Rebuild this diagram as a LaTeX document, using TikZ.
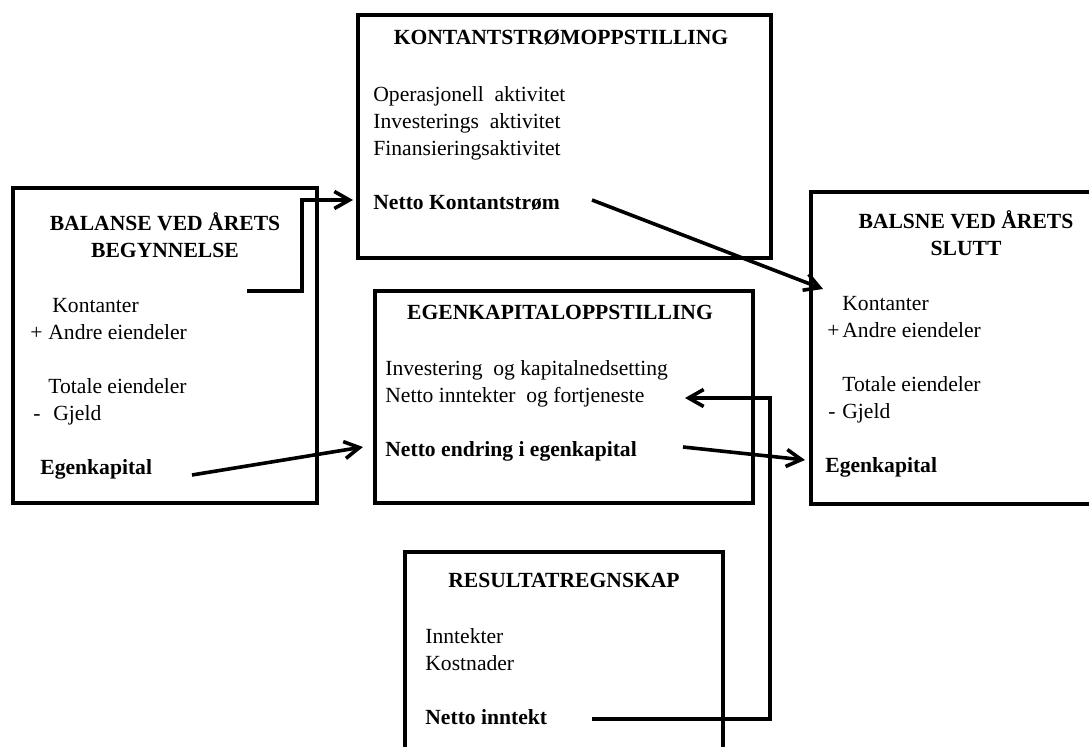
\documentclass[tikz,border=0pt]{standalone}
\usepackage{fontspec}
\setmainfont{Liberation Serif}
\usetikzlibrary{arrows.meta,fit}
\newcommand{\diagfont}{\fontsize{10.8pt}{13.5pt}\selectfont}
\tikzset{
  boxframe/.style={draw, line width=1.9pt, inner sep=0pt},
  boxtitle/.style={font=\diagfont\bfseries, align=center, inner sep=0pt, anchor=base},
  boxtext/.style={font=\diagfont, align=left, inner sep=0pt, anchor=base west},
  flow/.style={line width=1.8pt, -{Straight Barb[length=7.5pt,width=8.5pt]}}
}
\begin{document}
\begin{tikzpicture}[x=0.5pt, y=-0.5pt]
  \useasboundingbox (0,0) rectangle (1089,747);
  \clip (0,0) rectangle (1089,747);
  % Frames
  \node[boxframe, fit={(13,188) (317,503)}] (balStart) {};
  \node[boxframe, fit={(358,15) (771,258)}] (kontFlow) {};
  \node[boxframe, fit={(375,291) (753,503)}] (egenkap) {};
  \node[boxframe, fit={(811,192) (1121,504)}] (balEnd) {};
  \node[boxframe, fit={(405,552) (723,790)}] (resultat) {};
  % Titles (anchored at the baseline of the last line)
  \node[boxtitle] (balStartTitle) at (165,258) {BALANSE VED ÅRETS\\BEGYNNELSE};
  \node[boxtitle] (kontFlowTitle) at (561,45) {KONTANTSTRØMOPPSTILLING};
  \node[boxtitle] (egenkapTitle) at (560,320) {EGENKAPITALOPPSTILLING};
  \node[boxtitle] (balEndTitle) at (966,256) {BALSNE VED ÅRETS\\SLUTT};
  \node[boxtitle] (resultatTitle) at (564,588) {RESULTATREGNSKAP};
  % Entries
  \node[boxtext] (balStartText) at (30,475)
    {\hspace*{11pt}Kontanter\\
     \makebox[9pt][l]{+}Andre eiendeler\\[13.5pt]
     \hspace*{9pt}Totale eiendeler\\
     \hspace*{1.5pt}\makebox[10pt][l]{-}Gjeld\\[13.5pt]
     \hspace*{5pt}\textbf{Egenkapital}};
  \node[boxtext] (kontFlowText) at (373,210)
    {Operasjonell\ \ aktivitet\\
     Investerings\ \ aktivitet\\
     Finansieringsaktivitet\\[13.5pt]
     \textbf{Netto Kontantstrøm}};
  \node[boxtext] (egenkapText) at (385,457)
    {Investering\ \ og kapitalnedsetting\\
     Netto inntekter\ \ og fortjeneste\\[13.5pt]
     \textbf{Netto endring i egenkapital}};
  \node[boxtext] (balEndText) at (825,473)
    {\hspace*{8.5pt}Kontanter\\
     \hspace*{1pt}\makebox[7.5pt][l]{+}Andre eiendeler\\[13.5pt]
     \hspace*{8.5pt}Totale eiendeler\\
     \hspace*{1.5pt}\makebox[7pt][l]{-}Gjeld\\[13.5pt]
     \textbf{Egenkapital}};
  \node[boxtext] (resultatText) at (425,725)
    {Inntekter\\
     Kostnader\\[13.5pt]
     \textbf{Netto inntekt}};
  % Flows
  \coordinate (cashOut) at (247,291);
  \coordinate (cashIn) at (353,200);
  \coordinate (netCashOut) at (592,200);
  \coordinate (netCashIn) at (823,289);
  \coordinate (equityOut) at (192,475);
  \coordinate (equityIn) at (363,447);
  \coordinate (changeOut) at (683,447);
  \coordinate (changeIn) at (805,460);
  \coordinate (incomeOut) at (592,719);
  \coordinate (incomeTurn) at (770,398);
  \coordinate (incomeIn) at (685,398);
  \draw[flow] (cashOut) -- ++(55,0) |- (cashIn);
  \draw[flow] (netCashOut) -- (netCashIn);
  \draw[flow] (equityOut) -- (equityIn);
  \draw[flow] (changeOut) -- (changeIn);
  \draw[flow] (incomeOut) -| (incomeTurn) -- (incomeIn);
\end{tikzpicture}
\end{document}
